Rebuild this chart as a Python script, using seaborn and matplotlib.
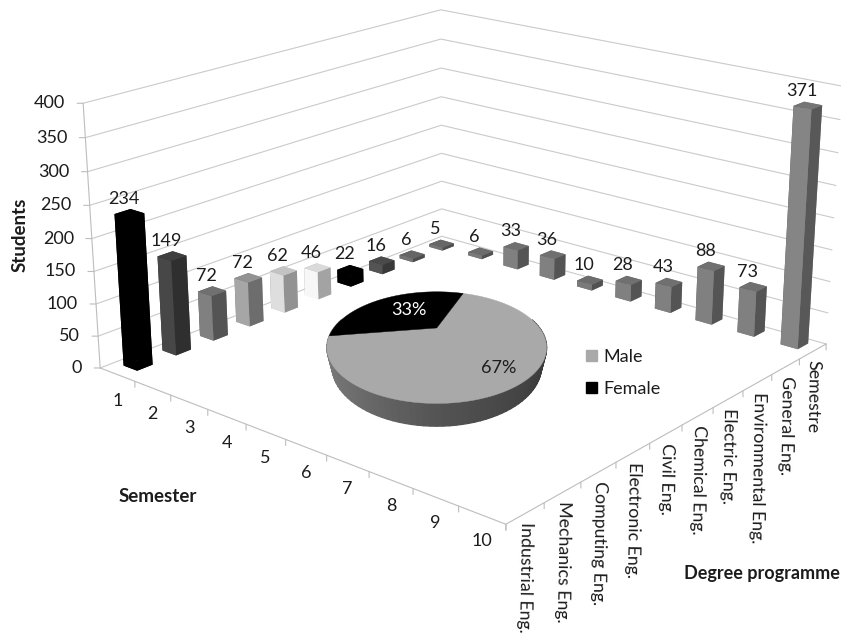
import numpy as np
import matplotlib
matplotlib.use("Agg")
import matplotlib.pyplot as plt
import seaborn as sns
from matplotlib.patches import Patch
from mpl_toolkits.mplot3d import proj3d
from mpl_toolkits.mplot3d.art3d import Poly3DCollection

# Enrolment counts
semesters = ["1", "2", "3", "4", "5", "6", "7", "8", "9", "10"]
semester_counts = [234, 149, 72, 72, 62, 46, 22, 16, 6, 5]
programmes = ["Industrial Eng.", "Mechanics Eng.", "Computing Eng.", "Electronic Eng.",
              "Civil Eng.", "Chemical Eng.", "Electric Eng.", "Environmental Eng.",
              "General Eng.", "Semestre"]
programme_counts = [6, 33, 36, 10, 28, 43, 88, 73, 371]
student_ticks = [0, 50, 100, 150, 200, 250, 300, 350, 400]
gender_labels = ["Male", "Female"]
gender_shares = [67, 33]

# Lightness of the front face of each column
semester_tones = [0.0, 0.28, 0.50, 0.65, 0.87, 0.97, 0.0, 0.33, 0.45, 0.46]
programme_tones = [0.48, 0.50, 0.50, 0.48, 0.50, 0.50, 0.50, 0.50, 0.52]

sns.set_theme(style="white")
plt.rcParams["font.family"] = ["Lato", "DejaVu Sans"]
plt.rcParams["font.size"] = 13
TEXT = "#1c1c1c"
GRID = "#cacaca"
AXIS = "#bdbdbd"

fig = plt.figure(figsize=(8.41, 6.35), dpi=100, facecolor="white")
ax = fig.add_axes([72.5 / 841, 11 / 635, 771 / 841, 771 / 635], projection="3d")
ax.patch.set_visible(False)
ax.set_axis_off()
ax.computed_zorder = False
ax.set_box_aspect((0.307, 0.307, 0.161))
ax.view_init(elev=19.0, azim=-49.9, roll=0)
ax.set_proj_type("persp", focal_length=0.4845)


def set_limits():
    ax.set_xlim(0, 10, view_margin=0)
    ax.set_ylim(0, 10, view_margin=0)
    ax.set_zlim(0, 400, view_margin=0)


def at(x, y, z):
    px, py, _ = proj3d.proj_transform(x, y, z, ax.get_proj())
    return px, py


def label(x, y, z, text, dx=0, dy=0, **kw):
    kw.setdefault("color", TEXT)
    ax.annotate(text, xy=at(x, y, z), xytext=(dx * 0.72, dy * 0.72),
                textcoords="offset points", annotation_clip=False, zorder=30, **kw)


def tick(x, y, z, dx, dy):
    ax.annotate("", xy=at(x, y, z), xytext=(dx * 0.72, dy * 0.72),
                textcoords="offset points", annotation_clip=False, zorder=1,
                arrowprops=dict(arrowstyle="-", color=AXIS, lw=0.8, shrinkA=0, shrinkB=0))


set_limits()

# Wall gridlines and floor edges
for z in student_ticks:
    ax.plot([0, 0, 10], [0, 10, 10], [z, z, z], color=GRID, lw=0.8, zorder=1)
ax.plot([0, 0], [0, 0], [0, 400], color=AXIS, lw=0.8, zorder=1)
ax.plot([0, 10, 10], [0, 0, 10], [0, 0, 0], color=AXIS, lw=0.8, zorder=1)

for z in student_ticks:
    tick(0, 0, z, -6, 0)
    label(0, 0, z, str(z), dx=-18, ha="right", va="center")
for i, name in enumerate(semesters):
    tick(i + 1, 0, 0, 0, -6)
    label(i + 0.5, 0, 0, name, dy=-26, ha="center", va="center")
for i, name in enumerate(programmes):
    tick(10, i, 0, 0, -6)
    label(10, i + 0.5, 0, name, dy=-9, ha="center", va="top", rotation=-91, fontsize=12.8)
tick(10, 10, 0, 0, -6)


def faces(tone):
    grey = "#808080"
    top = sns.set_hls_values(grey, l=tone * 0.88)
    left = sns.set_hls_values(grey, l=tone)
    right = sns.set_hls_values(grey, l=tone * 0.66)
    return [left, top, left, left, right, right]


def column(cx, cy, value, tone, order):
    w = 0.39
    ax.bar3d(cx - w / 2, cy - w / 2, 0, w, w, value, color=faces(tone), shade=False,
             edgecolor="none", zorder=order)
    label(cx, cy, value, str(value), dx=-6, dy=10, ha="center", va="baseline")


# The semester row runs towards the back corner, the programme row towards the right
for i, (value, tone) in enumerate(zip(semester_counts, semester_tones)):
    column(0.45, 0.56 + 0.99 * i, value, tone, 10 - i / 20)
for j, (value, tone) in enumerate(zip(programme_counts, programme_tones)):
    column(1.48 + 1.005 * j, 9.6, value, tone, 10 + j / 20)

set_limits()

# Gender split as a thick disc with its own viewpoint
thickness = 0.21
pie = fig.add_axes([294 / 841, (635 - 479) / 635, 277 / 841, 277 / 635], projection="3d")
pie.patch.set_visible(False)
pie.set_axis_off()
pie.computed_zorder = False
pie.set_box_aspect((1, 1, thickness / 2))
pie.view_init(elev=30.5, azim=-90, roll=0)
pie.set_proj_type("persp", focal_length=0.168)

start = 70.0
female_span = 360 * gender_shares[1] / sum(gender_shares)
male_span = 360 - female_span


def rim(a0, span, z):
    t = np.radians(np.linspace(a0, a0 + span, 120))
    return np.column_stack([np.cos(t), np.sin(t), np.full_like(t, z)])


def wedge(a0, span, colour, order):
    pts = np.vstack([[[0, 0, 0]], rim(a0, span, 0)])
    pie.add_collection3d(Poly3DCollection([pts], facecolors=colour, edgecolors=colour,
                                          linewidths=0.3, zorder=order))


edges = np.linspace(170, 370, 81)
for a, b in zip(edges[:-1], edges[1:]):
    ta, tb = np.radians(a), np.radians(b)
    quad = [(np.cos(ta), np.sin(ta), 0), (np.cos(tb), np.sin(tb), 0),
            (np.cos(tb), np.sin(tb), -thickness), (np.cos(ta), np.sin(ta), -thickness)]
    shade = np.interp(np.cos((ta + tb) / 2), [-1, 0, 1], [0.50, 0.33, 0.22])
    grey = sns.set_hls_values("#808080", l=float(shade))
    pie.add_collection3d(Poly3DCollection([quad], facecolors=grey, edgecolors=grey,
                                          linewidths=1.0, antialiased=False, zorder=1))

male_colour = "#a9a9a9"
female_colour = "#000000"
wedge(start + female_span, male_span, male_colour, 2)
wedge(start, female_span, female_colour, 3)
pie.set_xlim(-1, 1, view_margin=0)
pie.set_ylim(-1, 1, view_margin=0)
pie.set_zlim(-thickness, 0, view_margin=0)

fig.text(409 / 841, 1 - 310 / 635, f"{gender_shares[1]}%", color="white", ha="center", va="center")
fig.text(499 / 841, 1 - 368 / 635, f"{gender_shares[0]}%", color=TEXT, ha="center", va="center")

fig.legend(handles=[Patch(color=male_colour, label=gender_labels[0]),
                    Patch(color=female_colour, label=gender_labels[1])],
           loc="center left", bbox_to_anchor=(570 / 841, 1 - 373 / 635), frameon=False,
           fontsize=13, handlelength=0.6, handleheight=0.6, handletextpad=0.35,
           labelspacing=0.9, labelcolor=TEXT)

fig.text(158 / 841, 1 - 497 / 635, "Semester", fontweight="bold", fontsize=13.5,
         color=TEXT, ha="center", va="center")
fig.text(20 / 841, 1 - 235 / 635, "Students", fontweight="bold", fontsize=13.5,
         color=TEXT, ha="center", va="center", rotation=90)
fig.text(762 / 841, 1 - 573 / 635, "Degree programme", fontweight="bold", fontsize=13,
         color=TEXT, ha="center", va="center")

fig.savefig("out.png", dpi=100)
